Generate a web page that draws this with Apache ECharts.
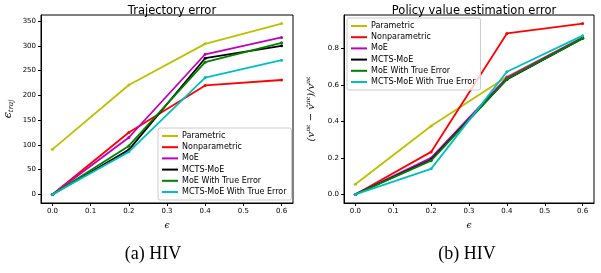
<!DOCTYPE html>
<html>
<head>
<meta charset="utf-8">
<script src="https://cdn.jsdelivr.net/npm/echarts@6/dist/echarts.min.js"></script>
<style>
html, body { margin: 0; padding: 0; background: #fff; }
#main { width: 601px; height: 273px; }
</style>
</head>
<body>
<div id="main"></div>
<script>
// x values (epsilon)
var eps = [0.0, 0.2, 0.4, 0.6];
var xTicks = [0.0, 0.1, 0.2, 0.3, 0.4, 0.5, 0.6];
var names = ['Parametric', 'Nonparametric', 'MoE', 'MCTS-MoE', 'MoE With True Error', 'MCTS-MoE With True Error'];
var colors = ['#bfbf00', '#ff0000', '#bf00bf', '#000000', '#008000', '#00bfbf'];

// (a) trajectory error
var trajParametric = [91, 221, 304, 345];
var trajNonparametric = [0, 125, 220, 231];
var trajMoE = [0, 115, 283, 317];
var trajMCTS = [0, 90, 275, 300];
var trajMoETrue = [0, 98, 267, 306];
var trajMCTSTrue = [0, 86, 236, 271];
var trajTicks = [0, 50, 100, 150, 200, 250, 300, 350];

// (b) policy value estimation error
var valParametric = [0.056, 0.375, 0.645, 0.86];
var valNonparametric = [0, 0.233, 0.882, 0.936];
var valMoE = [0, 0.20, 0.64, 0.86];
var valMCTS = [0, 0.19, 0.63, 0.855];
var valMoETrue = [0, 0.185, 0.632, 0.855];
var valMCTSTrue = [0, 0.14, 0.672, 0.87];
var valTicks = [0, 0.2, 0.4, 0.6, 0.8];

var trajSets = [trajParametric, trajNonparametric, trajMoE, trajMCTS, trajMoETrue, trajMCTSTrue];
var valSets = [valParametric, valNonparametric, valMoE, valMCTS, valMoETrue, valMCTSTrue];

function pairs(ys) {
	var out = [];
	for(var i = 0; i < eps.length; i++) {
		out.push([eps[i], ys[i]]);
	}
	return out;
}

var tickFont = { fontFamily: 'DejaVu Sans', fontSize: 7, color: '#000' };

function xAxisFor(idx) {
	return {
		type: 'value',
		gridIndex: idx,
		min: -0.03,
		max: 0.63,
		name: 'ϵ',
		nameLocation: 'middle',
		nameGap: 18,
		nameTextStyle: { fontFamily: 'DejaVu Serif', fontSize: 9, color: '#000', fontStyle: 'italic' },
		splitLine: { show: false },
		axisLine: { onZero: false, lineStyle: { color: '#000', width: 1 } },
		axisTick: { inside: false, length: 3, customValues: xTicks, lineStyle: { color: '#000' } },
		axisLabel: Object.assign({ margin: 5, customValues: xTicks, formatter: function(v) { return v.toFixed(1); } }, tickFont)
	};
}

function yAxisFor(idx, min, max, ticks, fmt, name, rich, gap) {
	return {
		type: 'value',
		gridIndex: idx,
		min: min,
		max: max,
		name: name,
		nameLocation: 'middle',
		nameRotate: 90,
		nameGap: gap,
		nameTextStyle: { fontFamily: 'DejaVu Serif', fontSize: 10, color: '#000', rich: rich },
		splitLine: { show: false },
		axisLine: { show: true, onZero: false, lineStyle: { color: '#000', width: 1 } },
		axisTick: { show: true, inside: false, length: 3, customValues: ticks, lineStyle: { color: '#000' } },
		axisLabel: Object.assign({ margin: 5, customValues: ticks, formatter: fmt }, tickFont)
	};
}

var series = [];
for(var k = 0; k < names.length; k++) {
	series.push({
		name: names[k], type: 'line', xAxisIndex: 0, yAxisIndex: 0,
		data: pairs(trajSets[k]), symbol: 'circle', symbolSize: 3,
		lineStyle: { width: 1.8, color: colors[k] }, itemStyle: { color: colors[k] },
		animation: false, z: 2 + k
	});
	series.push({
		name: names[k], type: 'line', xAxisIndex: 1, yAxisIndex: 1,
		data: pairs(valSets[k]), symbol: 'circle', symbolSize: 3,
		lineStyle: { width: 1.8, color: colors[k] }, itemStyle: { color: colors[k] },
		animation: false, z: 2 + k
	});
}

var legendBase = {
	orient: 'vertical',
	itemWidth: 16,
	itemHeight: 2,
	itemGap: 3.2,
	padding: [4, 5, 4, 4],
	backgroundColor: 'rgba(255,255,255,0.8)',
	borderColor: '#ccc',
	borderWidth: 1,
	borderRadius: 2,
	icon: 'rect',
	textStyle: { fontFamily: 'DejaVu Sans', fontSize: 8, color: '#000', padding: [0, 0, 0, -1] },
	data: names
};

var myChart = echarts.init(document.getElementById('main'));
var option = {
	animation: false,
	backgroundColor: '#fff',
	title: [{
		text: 'Trajectory error', left: 167, top: 0, textAlign: 'center',
		textStyle: { fontFamily: 'DejaVu Sans', fontSize: 11.5, fontWeight: 'normal', color: '#000' }
	}, {
		text: 'Policy value estimation error', left: 469, top: 0, textAlign: 'center',
		textStyle: { fontFamily: 'DejaVu Sans', fontSize: 11.5, fontWeight: 'normal', color: '#000' }
	}, {
		text: '(a) HIV', left: 148, top: 240, textAlign: 'center',
		textStyle: { fontFamily: 'Liberation Serif', fontSize: 18, fontWeight: 'normal', color: '#000' }
	}, {
		text: '(b) HIV', left: 462, top: 240, textAlign: 'center',
		textStyle: { fontFamily: 'Liberation Serif', fontSize: 18, fontWeight: 'normal', color: '#000' }
	}],
	legend: [
		Object.assign({}, legendBase, { left: 158, top: 128 }),
		Object.assign({}, legendBase, { left: 347, top: 18 })
	],
	grid: [
		{ left: 41, right: 308, top: 15, bottom: 70, show: true, borderColor: '#000', borderWidth: 1 },
		{ left: 344, right: 7, top: 15, bottom: 70, show: true, borderColor: '#000', borderWidth: 1 }
	],
	xAxis: [xAxisFor(0), xAxisFor(1)],
	yAxis: [
		yAxisFor(0, -17.25, 362.25, trajTicks, function(v) { return String(v); },
			'{e|ϵ}{s|traj}', { e: { fontSize: 11, fontFamily: 'DejaVu Serif', fontStyle: 'italic' }, s: { fontSize: 7, fontFamily: 'DejaVu Serif', fontStyle: 'italic', padding: [6, 0, 0, 0] } }, 26),
		yAxisFor(1, -0.047, 0.983, valTicks, function(v) { return v.toFixed(1); },
			'{n|(v}{p|πϵ}{n| − v̂}{p|πϵ}{n|)/v}{p|πϵ}', { n: { fontSize: 10, fontFamily: 'DejaVu Serif', fontStyle: 'italic' }, p: { fontSize: 6, fontFamily: 'DejaVu Serif', fontStyle: 'italic', padding: [0, 0, 6, 0] } }, 27)
	],
	series: series
};
myChart.setOption(option);
</script>
</body>
</html>
